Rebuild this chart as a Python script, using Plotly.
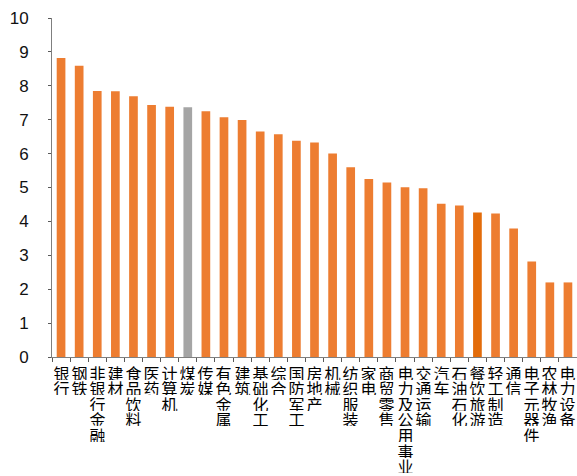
import plotly.graph_objects as go

categories = ["银行", "钢铁", "非银行金融", "建材", "食品饮料", "医药", "计算机", "煤炭",
              "传媒", "有色金属", "建筑", "基础化工", "综合", "国防军工", "房地产", "机械",
              "纺织服装", "家电", "商贸零售", "电力及公用事业", "交通运输", "汽车", "石油石化",
              "餐饮旅游", "轻工制造", "通信", "电子元器件", "农林牧渔", "电力设备"]
values = [8.82, 8.59, 7.85, 7.84, 7.69, 7.43, 7.38, 7.37, 7.25, 7.07, 6.99, 6.65, 6.57,
          6.38, 6.33, 6.00, 5.60, 5.25, 5.15, 5.01, 4.98, 4.52, 4.47, 4.26, 4.23, 3.79,
          2.82, 2.20, 2.20]
y_ticks = [0, 1, 2, 3, 4, 5, 6, 7, 8, 9, 10]

ORANGE = "#ED7D31"
GRAY = "#A5A5A5"
DARK = "#E36C0A"
colors = [GRAY if c == "煤炭" else DARK if c == "餐饮旅游" else ORANGE for c in categories]

fig = go.Figure(go.Bar(x=categories, y=values, marker=dict(color=colors, line=dict(width=0)),
                       hoverinfo="x+y"))

annotations = []
for c in categories:
    for j, ch in enumerate(c):
        annotations.append(dict(x=c, y=0, xref="x", yref="y", text=ch, showarrow=False,
                                yanchor="middle", xanchor="center", yshift=-(15 + 15.6 * j),
                                textangle=0, height=15, width=17,
                                font=dict(family="Noto Sans CJK SC", size=16, color="#000000")))

fig.update_layout(
    width=577, height=476,
    margin=dict(l=52, r=0, t=18, b=119),
    plot_bgcolor="white", paper_bgcolor="white",
    bargap=0.52,
    showlegend=False,
    annotations=annotations,
    xaxis=dict(type="category", range=[-0.5, 28.5], showticklabels=False,
               ticks="outside", tickson="boundaries", ticklen=4, tickcolor="#595959",
               showline=True, linecolor="#7f7f7f", linewidth=1, showgrid=False, zeroline=False),
    yaxis=dict(range=[0, 10], tickvals=y_ticks, ticks="outside", ticklen=3, tickcolor="#595959",
               showline=True, linecolor="#7f7f7f", linewidth=1, showgrid=False, zeroline=False,
               ticklabelstandoff=16,
               tickfont=dict(family="Liberation Sans, Arial", size=17, color="#111111")),
)

fig.write_html("out.html")
